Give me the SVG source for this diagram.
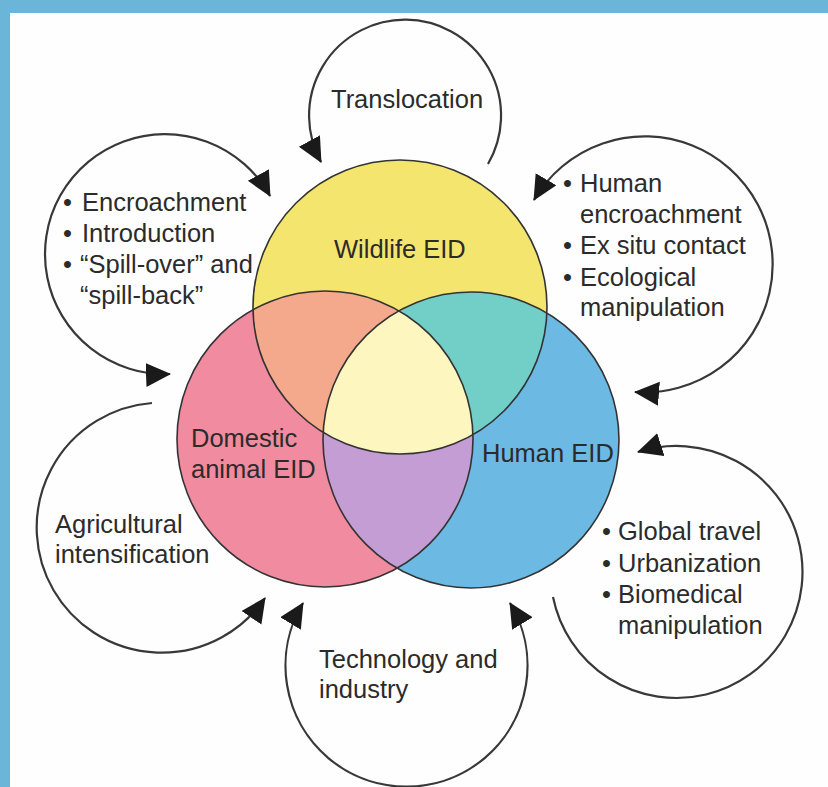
<svg xmlns="http://www.w3.org/2000/svg" width="828" height="787" viewBox="0 0 828 787">
<style>
text{font-family:"Liberation Sans",Arial,sans-serif;font-size:25.5px;fill:#2b2b2b}
.arc{fill:none;stroke:#383838;stroke-width:2.2}
.ring{fill:none;stroke:#333;stroke-width:1.6}
</style>
<defs>
<marker id="ah" markerUnits="userSpaceOnUse" markerWidth="28" markerHeight="26" refX="24" refY="12" orient="auto-start-reverse">
<path d="M0,0 L25,12 L0,24 z" fill="#1a1a1a"/>
</marker>
<clipPath id="cY"><circle cx="400" cy="307" r="147"/></clipPath>
<clipPath id="cD"><circle cx="325" cy="439" r="148"/></clipPath>
<clipPath id="cH"><circle cx="471" cy="440" r="148"/></clipPath>
</defs>
<rect width="828" height="787" fill="#fefefe"/>
<rect width="828" height="13" fill="#6bb5d9"/>
<rect width="10" height="787" fill="#6bb5d9"/>

<g id="connectors">
<path class="arc" d="M488,164 A96,96 0 1 0 321,162" marker-end="url(#ah)"/>
<path class="arc" d="M270,196 A120,120 0 1 0 170,374" marker-start="url(#ah)" marker-end="url(#ah)"/>
<path class="arc" d="M534,200 A128,128 0 1 1 635,392" marker-start="url(#ah)" marker-end="url(#ah)"/>
<path class="arc" d="M152,403 A125,125 0 1 0 265,598" marker-end="url(#ah)"/>
<path class="arc" d="M303,603 A121,121 0 1 0 510,603" marker-start="url(#ah)" marker-end="url(#ah)"/>
<path class="arc" d="M553,597 A126,126 0 1 0 638,452" marker-end="url(#ah)"/>
</g>

<g id="venn">
<circle cx="400" cy="307" r="147" fill="#f3e56e"/>
<circle cx="325" cy="439" r="148" fill="#f08ba0"/>
<circle cx="471" cy="440" r="148" fill="#6cb9e4"/>
<circle cx="325" cy="439" r="148" fill="#f5a98c" clip-path="url(#cY)"/>
<circle cx="471" cy="440" r="148" fill="#72cfc8" clip-path="url(#cY)"/>
<circle cx="471" cy="440" r="148" fill="#c49dd5" clip-path="url(#cD)"/>
<g clip-path="url(#cY)"><circle cx="471" cy="440" r="148" fill="#fdf6bf" clip-path="url(#cD)"/></g>
<circle class="ring" cx="400" cy="307" r="147"/>
<circle class="ring" cx="325" cy="439" r="148"/>
<circle class="ring" cx="471" cy="440" r="148"/>
</g>

<g id="wildlife"><text x="334" y="258">Wildlife EID</text></g>
<g id="domestic"><text x="191" y="447">Domestic</text><text x="191" y="478">animal EID</text></g>
<g id="human"><text x="482" y="462">Human EID</text></g>

<g id="translocation"><text x="331" y="108">Translocation</text></g>
<g id="encroachment">
<text x="63" y="211">•</text><text x="82" y="211">Encroachment</text>
<text x="63" y="242">•</text><text x="82" y="242">Introduction</text>
<text x="63" y="273">•</text><text x="80" y="273">“Spill-over” and</text>
<text x="80" y="304">“spill-back”</text>
</g>
<g id="human-encroachment">
<text x="563" y="192">•</text><text x="580" y="192">Human</text>
<text x="580" y="223">encroachment</text>
<text x="563" y="254">•</text><text x="580" y="254">Ex situ contact</text>
<text x="563" y="286">•</text><text x="580" y="286">Ecological</text>
<text x="580" y="316">manipulation</text>
</g>
<g id="agricultural"><text x="55" y="533">Agricultural</text><text x="55" y="563">intensification</text></g>
<g id="technology"><text x="319" y="668">Technology and</text><text x="319" y="698">industry</text></g>
<g id="global">
<text x="602" y="540">•</text><text x="618" y="540">Global travel</text>
<text x="602" y="572">•</text><text x="618" y="572">Urbanization</text>
<text x="602" y="603">•</text><text x="618" y="603">Biomedical</text>
<text x="618" y="634">manipulation</text>
</g>
</svg>
